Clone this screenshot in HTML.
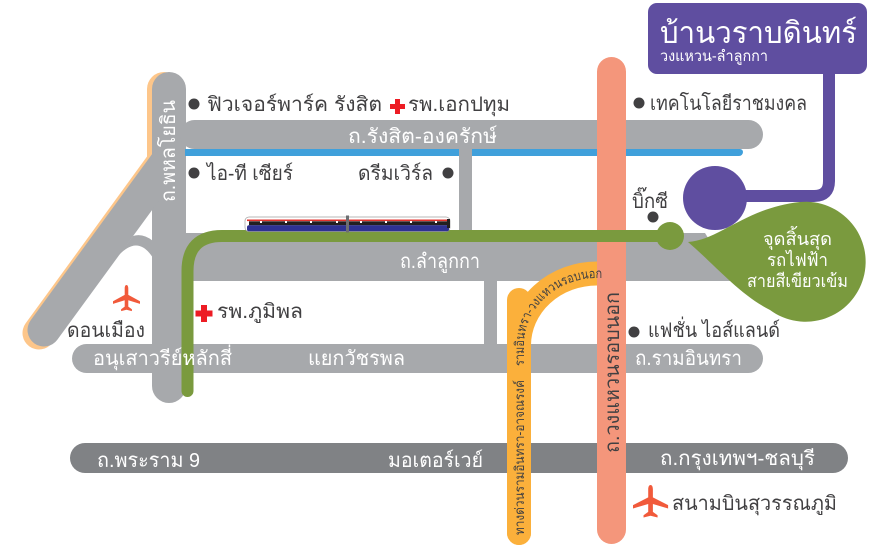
<!DOCTYPE html>
<html><head><meta charset="utf-8">
<style>
html,body{margin:0;padding:0;background:#fff;}
svg{display:block;}
text{font-family:"Liberation Sans","DejaVu Sans",sans-serif;}
.d{fill:#414042;font-size:20px;}
.w{fill:#fff;font-size:20px;}
</style></head>
<body>
<svg width="886" height="549" viewBox="0 0 886 549" xmlns="http://www.w3.org/2000/svg">
<rect width="886" height="549" fill="#fff"/>

<!-- orange shadow for Phahonyothin + diagonal -->
<rect x="147" y="72" width="34" height="130" rx="17" fill="#fdc68a"/>
<line x1="162" y1="164" x2="39" y2="333" stroke="#fdc68a" stroke-width="33" stroke-linecap="round"/>

<!-- Phahonyothin -->
<rect x="152" y="72" width="34" height="331" rx="17" fill="#a7a9ac"/>
<line x1="166" y1="163" x2="44" y2="330" stroke="#a7a9ac" stroke-width="33" stroke-linecap="round"/>
<!-- ramp -->
<path d="M133 236 Q143 233 153 241 L153 258 Q138 234 118 256 Z" fill="#a7a9ac"/>

<!-- Rangsit-Ongkharak -->
<rect x="180" y="120" width="583" height="29" rx="14.5" fill="#a7a9ac"/>
<path d="M185 149 H740 a3 3 0 0 1 3 3 v0 a4 4 0 0 1 -4 4 H185 Z" fill="#40a0db"/>
<!-- small vertical connector -->
<rect x="459" y="147" width="13" height="90" fill="#a7a9ac"/>

<!-- Lam Luk Ka -->
<polygon points="185,233 705,233 735,281 185,281" fill="#a7a9ac"/>
<rect x="484" y="279" width="13" height="67" fill="#a7a9ac"/>

<!-- Ram Inthra -->
<rect x="72" y="344" width="691" height="29" rx="14.5" fill="#a7a9ac"/>

<!-- bottom dark road -->
<rect x="70" y="443" width="778" height="30" rx="15" fill="#808285"/>

<!-- orange expressway -->
<path d="M519 533 V345 A78 72 0 0 1 597 273.5 H612" fill="none" stroke="#fbb03b" stroke-width="24" stroke-linecap="round"/>
<path d="M519 533 V300" fill="none" stroke="#fbb03b" stroke-width="24" stroke-linecap="round"/>

<!-- salmon road -->
<rect x="597" y="57" width="29" height="487" rx="14.5" fill="#f4967b"/>

<!-- green line -->
<path d="M187.5 391 V271 Q187.5 236 222 236 H670" fill="none" stroke="#7a9a3e" stroke-width="12" stroke-linecap="round"/>
<circle cx="670" cy="236" r="14" fill="#7a9a3e"/>

<!-- train -->
<g>
<rect x="245" y="217" width="205" height="14.5" rx="4" fill="#fff" stroke="#a0a0a0" stroke-width="0.7"/>
<rect x="247" y="219.5" width="201" height="1.6" fill="#e5322d"/>
<rect x="249" y="221.3" width="198" height="4" fill="#231f20"/>
<rect x="247" y="225.2" width="202" height="6" rx="2" fill="#2e3192"/>
<rect x="346" y="215.5" width="3" height="17" fill="#6d6e71"/>
<rect x="447" y="219" width="3" height="9" fill="#231f20"/>
<g fill="#fff">
<rect x="260" y="221" width="2" height="2"/><rect x="285" y="221" width="2" height="2"/><rect x="310" y="221" width="2" height="2"/><rect x="336" y="221" width="2" height="2"/>
<rect x="360" y="221" width="2" height="2"/><rect x="385" y="221" width="2" height="2"/><rect x="410" y="221" width="2" height="2"/><rect x="435" y="221" width="2" height="2"/>
</g>
</g>

<!-- purple -->
<path d="M829 70 V181 Q829 196 814 196 H740" fill="none" stroke="#5f4ea0" stroke-width="12"/>
<circle cx="715" cy="198" r="32" fill="#5f4ea0"/>
<rect x="648" y="3" width="219" height="71" rx="9" fill="#5f4ea0"/>

<!-- green teardrop -->
<path d="M688 242 C720 240 745 208 800 202 A60 60 0 1 1 770 310 C740 295 715 265 688 242 Z" fill="#7a9a3e"/>

<!-- red crosses -->
<path d="M395 99 h5 v5 h5 v5 h-5 v5 h-5 v-5 h-5 v-5 h5 Z" fill="#ed1c24"/>
<path d="M201 305 h6 v5.5 h5.5 v6 h-5.5 v5.5 h-6 v-5.5 h-5.5 v-6 h5.5 Z" fill="#ed1c24"/>

<!-- airplanes -->
<path transform="translate(113,285) scale(0.9)" d="M15 0 C16.5 0 17 2 17 4 L17 11 L30 18 L30 21 L17 17 L17 24 L21 27 L21 29 L15 27.5 L9 29 L9 27 L13 24 L13 17 L0 21 L0 18 L13 11 L13 4 C13 2 13.5 0 15 0 Z" fill="#f15a3b"/>
<path transform="translate(633,485) scale(1.17,1.12)" d="M15 0 C16.5 0 17 2 17 4 L17 11 L30 18 L30 21 L17 17 L17 24 L21 27 L21 29 L15 27.5 L9 29 L9 27 L13 24 L13 17 L0 21 L0 18 L13 11 L13 4 C13 2 13.5 0 15 0 Z" fill="#f15a3b"/>

<!-- dots -->
<g fill="#414042">
<circle cx="194" cy="104" r="5.5"/>
<circle cx="194" cy="173" r="5.5"/>
<circle cx="448" cy="173" r="5.5"/>
<circle cx="639" cy="103" r="5.5"/>
<circle cx="653" cy="217" r="5.5"/>
<circle cx="634" cy="332" r="5.5"/>
</g>

<!-- labels dark -->
<text class="d" x="207" y="111" textLength="175" lengthAdjust="spacingAndGlyphs">ฟิวเจอร์พาร์ค รังสิต</text>
<text class="d" x="408" y="111" textLength="102" lengthAdjust="spacingAndGlyphs">รพ.เอกปทุม</text>
<text class="d" x="207" y="180" textLength="86" lengthAdjust="spacingAndGlyphs">ไอ-ที เซียร์</text>
<text class="d" x="358" y="180" textLength="75" lengthAdjust="spacingAndGlyphs">ดรีมเวิร์ล</text>
<text class="d" x="650" y="110" textLength="157" lengthAdjust="spacingAndGlyphs">เทคโนโลยีราชมงคล</text>
<text class="d" x="632" y="208" textLength="36" lengthAdjust="spacingAndGlyphs">บิ๊กซี</text>
<text class="d" x="67" y="337" textLength="78" lengthAdjust="spacingAndGlyphs">ดอนเมือง</text>
<text class="d" x="217" y="318" textLength="86" lengthAdjust="spacingAndGlyphs">รพ.ภูมิพล</text>
<text class="d" x="648" y="337" textLength="132" lengthAdjust="spacingAndGlyphs">แฟชั่น ไอส์แลนด์</text>
<text class="d" x="672" y="510" textLength="165" lengthAdjust="spacingAndGlyphs">สนามบินสุวรรณภูมิ</text>

<!-- labels white -->
<text class="w" x="348" y="143" textLength="149" lengthAdjust="spacingAndGlyphs">ถ.รังสิต-องครักษ์</text>
<text class="w" x="400" y="268" textLength="80" lengthAdjust="spacingAndGlyphs">ถ.ลำลูกกา</text>
<text class="w" x="93" y="365" textLength="139" lengthAdjust="spacingAndGlyphs">อนุเสาวรีย์หลักสี่</text>
<text class="w" x="308" y="365" textLength="97" lengthAdjust="spacingAndGlyphs">แยกวัชรพล</text>
<text class="w" x="635" y="365" textLength="107" lengthAdjust="spacingAndGlyphs">ถ.รามอินทรา</text>
<text class="w" x="97" y="467" textLength="103" lengthAdjust="spacingAndGlyphs">ถ.พระราม 9</text>
<text class="w" x="388" y="467" textLength="95" lengthAdjust="spacingAndGlyphs">มอเตอร์เวย์</text>
<text class="w" x="660" y="465" textLength="155" lengthAdjust="spacingAndGlyphs">ถ.กรุงเทพฯ-ชลบุรี</text>

<text x="660" y="43" fill="#fff" font-size="30" textLength="197" lengthAdjust="spacingAndGlyphs">บ้านวราบดินทร์</text>
<text x="660" y="61" fill="#fff" font-size="15" textLength="108" lengthAdjust="spacingAndGlyphs">วงแหวน-ลำลูกกา</text>

<text x="763" y="245" fill="#fff" font-size="18" textLength="69" lengthAdjust="spacingAndGlyphs">จุดสิ้นสุด</text>
<text x="767" y="266" fill="#fff" font-size="18" textLength="61" lengthAdjust="spacingAndGlyphs">รถไฟฟ้า</text>
<text x="747" y="287" fill="#fff" font-size="18" textLength="101" lengthAdjust="spacingAndGlyphs">สายสีเขียวเข้ม</text>

<!-- rotated -->
<text class="w" transform="translate(175,202) rotate(-90)" x="0" y="0" textLength="102" lengthAdjust="spacingAndGlyphs">ถ.พหลโยธิน</text>
<text class="d" transform="translate(619,453) rotate(-90)" x="0" y="0" textLength="161" lengthAdjust="spacingAndGlyphs">ถ.วงแหวนรอบนอก</text>
<text transform="translate(524,535) rotate(-90)" x="0" y="0" fill="#414042" font-size="13" textLength="155" lengthAdjust="spacingAndGlyphs">ทางด่วนรามอินทรา-อาจณรงค์</text>

<defs><path id="cv" d="M524 366 V345 A73 67 0 0 1 597 278 H612"/></defs>
<text fill="#414042" font-size="13"><textPath href="#cv" textLength="136" lengthAdjust="spacingAndGlyphs">รามอินทรา-วงแหวนรอบนอก</textPath></text>
</svg>
</body></html>
